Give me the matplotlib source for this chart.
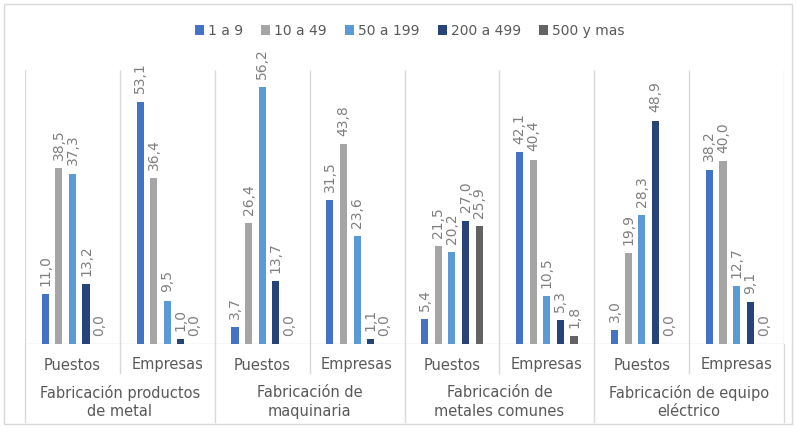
import matplotlib
matplotlib.use("Agg")
import matplotlib.pyplot as plt
from matplotlib.patches import Rectangle
import numpy as np

# --- data (percentages) ---
SERIES = ["1 a 9", "10 a 49", "50 a 199", "200 a 499", "500 y mas"]
SECTORS = [
    "Fabricación productos\nde metal",
    "Fabricación de\nmaquinaria",
    "Fabricación de\nmetales comunes",
    "Fabricación de equipo\neléctrico",
]
SUBCATS = ["Puestos", "Empresas"]

# one list per series, 8 values: (sector1 Puestos, sector1 Empresas, sector2 Puestos, ...)
s_1a9 = [11.0, 53.1, 3.7, 31.5, 5.4, 42.1, 3.0, 38.2]
s_10a49 = [38.5, 36.4, 26.4, 43.8, 21.5, 40.4, 19.9, 40.0]
s_50a199 = [37.3, 9.5, 56.2, 23.6, 20.2, 10.5, 28.3, 12.7]
s_200a499 = [13.2, 1.0, 13.7, 1.1, 27.0, 5.3, 48.9, 9.1]
s_500ymas = [0.0, 0.0, 0.0, 0.0, 25.9, 1.8, 0.0, 0.0]

COLORS = ["#4472C4", "#A5A5A5", "#5B9BD5", "#264478", "#636363"]
GRID = "#D9D9D9"
LABEL = "#7F7F7F"
TEXT = "#595959"

W, H, DPI = 796, 428, 100

fig = plt.figure(figsize=(W / DPI, H / DPI), dpi=DPI)
fig.patch.set_facecolor("white")
# outer chart border
fig.patches.append(Rectangle((4 / W, 4 / H), 1 - 8 / W, 1 - 8 / H,
                             transform=fig.transFigure, fill=False,
                             edgecolor=GRID, linewidth=1.0))

x0, x1, y0, y1 = 25, 784, 344, 70
ax = fig.add_axes([x0 / W, (H - y0) / H, (x1 - x0) / W, (y0 - y1) / H])

all_series = [s_1a9, s_10a49, s_50a199, s_200a499, s_500ymas]
n_cat = len(s_1a9)
centers = np.arange(n_cat) + 0.5
step = 0.143
bw = 0.075

for k, (vals, col, name) in enumerate(zip(all_series, COLORS, SERIES)):
    xs = centers + (k - 2) * step
    ax.bar(xs, vals, width=bw, color=col, label=name, zorder=3)
    for xv, v in zip(xs, vals):
        ax.text(xv, v + 1.8, f"{v:.1f}".replace(".", ","), rotation=90,
                ha="center", va="bottom", fontsize=10, color=LABEL)

ax.set_xlim(0, n_cat)
ax.set_ylim(0, 60)
ax.set_xticks([])
ax.set_yticks([])
for sp in ax.spines.values():
    sp.set_visible(False)

# vertical grid lines at category boundaries, baseline
ax.vlines(np.arange(n_cat + 1), 0, 60, color=GRID, linewidth=1.0, zorder=1)
ax.axhline(0, color=GRID, linewidth=1.0, zorder=2)

# multi-level category axis
tr = ax.get_xaxis_transform()
ax_h = y0 - y1
for i in range(n_cat + 1):
    depth = (y0 - 422) / ax_h if i % 2 == 0 else (y0 - 373) / ax_h
    ax.plot([i, i], [0, depth], color=GRID, linewidth=1.0,
            transform=tr, clip_on=False)

for i, c in enumerate(centers):
    ax.text(c, (y0 - 365) / ax_h, SUBCATS[i % 2], transform=tr,
            ha="center", va="center", fontsize=10.5, color=TEXT)

for j, name in enumerate(SECTORS):
    ax.text(2 * j + 1, (y0 - 402) / ax_h, name, transform=tr,
            ha="center", va="center", fontsize=10.5, color=TEXT,
            linespacing=1.3)

fig.legend(loc="center", bbox_to_anchor=(0.515, 1 - 31 / H), ncol=5,
           frameon=False, fontsize=10, labelcolor=TEXT,
           handlelength=0.65, handleheight=0.65, handletextpad=0.3,
           columnspacing=1.3)

fig.savefig("out.png", dpi=DPI, facecolor=fig.get_facecolor())
